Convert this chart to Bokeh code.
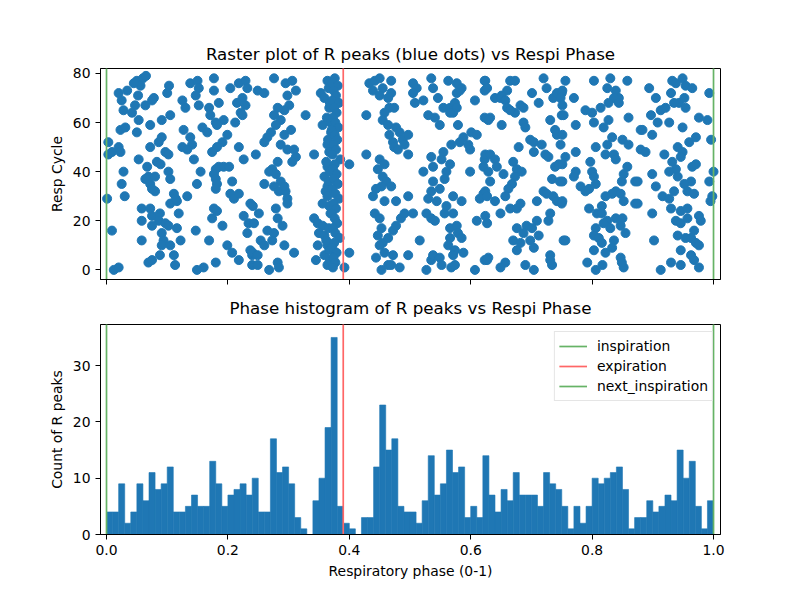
from bokeh.plotting import figure
from bokeh.layouts import column
from bokeh.models import Range1d, FixedTicker, Legend, LegendItem
from bokeh.embed import file_html
from bokeh.resources import INLINE

# ---------------- data ----------------
inspiration_phase = 0.0
expiration_phase = 0.39
next_inspiration_phase = 1.0

# R peaks: (respiratory phase, respiratory cycle)
peaks_a = [(0.050,77),(0.060,78),(0.056,75),(0.045,76),(0.065,79),
(0.020,72),(0.034,73),(0.052,71),(0.103,75),(0.100,72),
(0.025,69),(0.028,65),(0.042,64),(0.047,67),(0.064,67),(0.075,69),(0.078,70),
(0.091,61),(0.105,63),(0.053,61),(0.072,59),(0.050,56),(0.023,57),(0.031,58),
(0.003,52),(0.003,47),(0.009,48),(0.020,50),(0.023,48),
(0.072,50),(0.091,54),(0.086,52),(0.097,48),(0.102,47),
(0.053,45),(0.083,44),(0.089,43),(0.067,42),(0.069,38),(0.064,37),
(0.028,40),(0.102,40),(0.105,37),(0.080,38),(0.072,35),(0.080,32),(0.075,33),
(0.025,35),(0.030,30),(0.001,29),
(0.111,31),(0.105,27),(0.116,28),
(0.058,25),(0.072,25),(0.075,22),(0.088,23),(0.086,20),(0.058,20),(0.097,19),(0.102,18),(0.075,18),
(0.091,15),(0.094,12),(0.091,10),(0.105,10),(0.111,6),(0.113,2),(0.058,12),(0.009,16),(0.088,6),
(0.069,3),(0.075,4),(0.012,0),(0.020,1)]

peaks_b = [(0.138,76),(0.150,77),(0.152,74),(0.147,71),(0.177,78),(0.177,73),
(0.204,74),(0.218,76),(0.229,77),(0.232,74),(0.224,70),(0.229,67),(0.221,64),(0.215,68),
(0.125,69),(0.130,66),(0.152,67),(0.169,66),(0.171,63),(0.185,68),(0.180,60),(0.193,61),
(0.127,57),(0.158,58),(0.166,56),(0.182,59),(0.212,60),(0.224,63),
(0.138,54),(0.141,51),(0.199,55),(0.191,52),(0.182,50),(0.174,48),
(0.125,50),(0.133,49),(0.144,45),(0.218,50),(0.226,45),
(0.155,40),(0.185,42),(0.180,41),(0.177,39),(0.180,37),(0.182,35),(0.193,42),(0.202,42),(0.180,33),(0.207,36),
(0.149,35),(0.133,30),(0.114,29),(0.204,31),(0.210,29),(0.218,31),
(0.119,23),(0.177,25),(0.174,21),(0.182,24),(0.191,18),(0.226,22),(0.234,19),(0.232,15),(0.237,27),
(0.147,16),(0.169,12),(0.122,12),(0.116,17),(0.199,10),(0.207,7),(0.218,4),(0.237,8),(0.240,2),(0.240,6),
(0.180,3),(0.160,1),(0.149,0)]

peaks_c = [(0.276,78),(0.295,76),(0.306,77),(0.312,73),(0.298,71),(0.301,67),(0.293,65),
(0.249,73),(0.260,72),
(0.282,66),(0.276,63),(0.287,61),(0.279,59),(0.271,56),(0.265,54),(0.260,52),
(0.328,63),
(0.353,72),(0.359,70),(0.364,77),(0.356,59),(0.367,66),(0.370,56),(0.364,51),
(0.304,57),(0.293,55),(0.287,51),(0.298,49),(0.309,49),(0.312,46),(0.306,44),
(0.246,47),(0.342,47),
(0.282,44),(0.273,41),(0.268,40),(0.279,39),(0.287,36),(0.276,34),(0.284,32),(0.295,32),(0.298,29),(0.298,27),(0.293,34),
(0.260,35),
(0.359,38),(0.364,42),(0.364,34),(0.361,32),(0.367,26),(0.356,27),
(0.251,23),(0.241,26),(0.243,19),
(0.279,25),(0.282,21),(0.290,18),(0.276,15),
(0.265,16),(0.273,12),(0.254,12),(0.260,10),
(0.342,21),(0.348,19),(0.356,18),(0.350,15),(0.348,10),(0.359,14),(0.364,10),(0.345,4),
(0.359,6),(0.364,2),(0.367,8),
(0.293,10),(0.309,7),(0.282,3),(0.284,1),(0.268,0),(0.249,2),(0.241,7),(0.249,6),
(0.366,74),(0.368,68),(0.363,62),(0.369,60),(0.365,53),(0.367,48),(0.362,44),(0.368,40),
(0.366,36),(0.364,30),(0.369,23),(0.366,17),(0.362,12),(0.368,4)]

peaks_d = [(0.376,78),(0.372,76),(0.381,75),(0.374,73),(0.378,71),(0.372,69),(0.383,68),(0.375,66),
(0.379,64),(0.373,62),(0.377,60),(0.382,58),(0.371,57),(0.376,55),(0.380,53),(0.374,51),
(0.378,49),(0.372,47),(0.385,45),(0.376,43),(0.373,41),(0.379,39),(0.375,37),(0.381,35),
(0.372,33),(0.377,31),(0.383,29),(0.374,27),(0.378,25),(0.371,23),(0.376,21),(0.380,19),
(0.373,17),(0.377,15),(0.384,13),(0.375,11),(0.372,9),(0.379,7),(0.374,5),(0.377,3),(0.373,1)]

peaks_e = [(0.400,43),(0.400,7),(0.392,1),(0.428,63),(0.428,47),
(0.433,76),(0.442,77),(0.450,78),(0.469,77),(0.439,73),(0.455,74),(0.469,72),(0.464,70),(0.450,71),
(0.466,66),(0.474,66),(0.458,64),(0.455,61),(0.464,59),(0.477,58),(0.483,56),(0.488,53),(0.472,52),
(0.474,50),(0.480,49),(0.491,51),(0.466,55),
(0.450,45),(0.458,43),(0.447,41),(0.455,38),(0.461,36),(0.453,34),(0.444,33),(0.439,30),(0.458,28),
(0.469,34),(0.477,28),
(0.442,23),(0.450,21),(0.453,17),(0.447,14),(0.455,11),(0.464,13),(0.472,16),(0.477,18),
(0.450,10),(0.444,5),(0.453,0),(0.464,2),(0.469,2),(0.483,1),(0.472,6),(0.458,7),
(0.485,21),(0.491,23)]

peaks_f = [(0.505,76),(0.511,74),(0.505,72),(0.508,68),(0.522,69),
(0.535,78),(0.538,74),(0.546,70),(0.563,77),(0.577,76),(0.582,73),(0.585,74),(0.577,72),
(0.555,66),(0.566,66),(0.574,68),(0.577,66),(0.571,64),(0.566,64),
(0.530,63),(0.541,62),(0.549,59),
(0.607,69),(0.623,77),(0.623,73),
(0.497,55),(0.497,47),
(0.579,59),(0.588,54),(0.582,52),(0.596,51),(0.601,56),(0.610,55),(0.599,49),(0.623,62),(0.623,45),
(0.568,51),(0.555,48),(0.535,46),(0.552,45),(0.566,43),(0.560,40),(0.557,37),(0.538,42),(0.522,40),
(0.538,36),(0.549,33),(0.535,32),
(0.599,40),
(0.497,30),(0.505,23),
(0.530,29),(0.527,23),(0.535,21),(0.541,20),(0.544,28),(0.560,26),(0.557,23),(0.571,30),(0.571,23),(0.585,28),
(0.615,29),(0.621,31),(0.610,20),
(0.516,12),
(0.566,17),(0.577,18),(0.579,15),(0.585,13),(0.566,13),(0.563,10),(0.574,8),(0.588,7),(0.571,6),
(0.497,6),
(0.535,4),(0.538,6),(0.549,5),(0.527,0),(0.552,2),(0.568,1),(0.574,2),(0.607,0),
(0.623,4)]

peaks_g = [(0.624,77),(0.627,74),
(0.665,77),(0.673,77),(0.660,73),(0.640,70),(0.649,70),(0.651,71),
(0.657,69),(0.660,66),(0.673,64),(0.682,67),(0.687,66),(0.665,65),
(0.632,62),(0.629,61),(0.651,59),
(0.701,72),(0.712,68),(0.720,78),(0.725,74),(0.736,70),(0.742,72),(0.750,72),
(0.731,61),(0.739,57),(0.742,55),(0.750,63),
(0.687,60),(0.690,58),
(0.698,53),(0.704,52),(0.717,51),(0.704,48),(0.723,47),(0.728,46),
(0.679,50),
(0.739,42),(0.745,43),
(0.624,47),(0.632,47),(0.640,45),(0.643,42),(0.621,42),(0.629,40),(0.632,36),
(0.654,39),(0.670,44),(0.676,41),(0.684,40),(0.673,38),(0.668,35),(0.662,33),(0.657,30),
(0.734,37),(0.747,36),
(0.624,32),(0.627,30),
(0.640,28),(0.649,23),(0.665,25),(0.676,25),(0.682,27),
(0.709,28),(0.720,32),(0.725,31),(0.736,30),(0.742,28),(0.750,27),
(0.624,22),(0.627,19),
(0.731,23),(0.728,20),(0.709,20),
(0.676,17),(0.692,18),(0.701,17),(0.687,15),(0.670,12),(0.682,11),(0.698,12),(0.712,14),(0.704,9),
(0.676,8),
(0.629,5),(0.627,4),
(0.657,3),(0.649,1),
(0.690,2),(0.704,0),
(0.731,6),(0.734,2),(0.731,4),
(0.753,12)]

peaks_h = [(0.756,77),(0.751,73),(0.748,70),
(0.770,70),
(0.803,77),(0.830,78),(0.825,74),(0.839,73),(0.844,70),(0.836,70),(0.844,68),(0.827,68),(0.858,77),
(0.751,67),(0.753,63),
(0.789,65),(0.800,64),
(0.814,66),(0.819,58),(0.827,61),(0.803,60),(0.773,59),
(0.860,62),
(0.751,55),(0.748,51),
(0.833,54),(0.825,51),(0.850,53),(0.860,51),(0.880,57),
(0.806,50),
(0.822,47),(0.836,47),(0.839,45),
(0.773,48),(0.756,46),(0.751,43),
(0.797,44),(0.800,40),(0.803,38),(0.806,35),(0.795,33),(0.789,32),
(0.773,40),(0.770,38),(0.751,36),
(0.858,42),(0.852,39),(0.849,36),(0.871,36),
(0.781,34),
(0.822,30),(0.839,32),(0.847,31),(0.852,28),(0.871,27),(0.833,31),
(0.751,28),
(0.795,25),(0.808,23),(0.816,26),(0.816,23),
(0.825,20),(0.839,21),(0.850,21),(0.847,18),(0.830,17),(0.819,19),
(0.806,17),(0.803,14),(0.811,13),(0.816,11),(0.836,12),(0.833,9),(0.822,7),(0.803,8),(0.855,15),
(0.756,12),
(0.792,3),(0.806,0),(0.817,2),
(0.847,5),(0.852,1),(0.849,3)]

peaks_i = [(0.894,74),(0.905,70),(0.932,77),(0.938,76),(0.949,78),(0.954,75),(0.965,74),(0.930,72),
(0.943,68),(0.952,70),(0.954,66),(0.935,68),
(0.993,72),
(0.897,63),(0.913,65),(0.921,66),(0.908,60),(0.927,60),(0.949,58),
(0.976,62),(0.990,61),
(0.883,57),(0.899,55),
(0.960,52),(0.971,54),(0.996,53),
(0.880,49),(0.888,48),(0.919,47),(0.941,50),(0.949,48),(0.946,46),
(0.965,42),(0.971,43),(0.932,44),(0.938,41),(0.941,38),(0.927,40),
(0.899,39),(0.875,36),
(0.963,36),(0.952,35),(0.957,32),(0.968,31),(0.905,34),(0.935,32),
(0.993,36),(1.0,40),
(0.916,30),(0.927,29),(0.930,25),(0.946,24),(0.957,25),
(0.998,30),(0.995,28),
(0.875,27),
(0.899,23),(0.938,20),(0.946,19),(0.957,21),(0.976,22),(0.979,20),
(0.968,16),(0.941,14),(0.954,13),(0.963,13),(0.971,11),(0.976,10),
(0.902,12),
(0.946,8),(0.963,6),(0.968,4),(0.976,1),
(0.930,3),(0.946,2),(0.913,0)]

# Phase histogram: 100 bins of width 0.01 over [0, 1]
hist_counts = [4,4,9,2,4,9,6,11,8,9, 12,4,4,5,7,5,5,13,9,5,
               7,8,9,7,10,4,4,17,11,12, 9,3,1,0,6,10,19,35,5,2,
               1,0,3,3,12,23,15,17,5,4, 4,2,6,14,7,9,15,11,12,3,
               5,3,14,7,4,8,6,11,7,7, 7,5,11,9,8,5,1,5,2,5,
               10,9,10,11,12,8,1,3,3,6, 4,5,7,6,15,10,13,5,1,6]
n_bins = len(hist_counts)
bin_left = [i / n_bins for i in range(n_bins)]
bin_right = [(i + 1) / n_bins for i in range(n_bins)]

all_peaks = peaks_a + peaks_b + peaks_c + peaks_d + peaks_e + peaks_f + peaks_g + peaks_h + peaks_i
peak_phase = [p for p, c in all_peaks]
peak_cycle = [c for p, c in all_peaks]

# ---------------- styling ----------------
FONT = "DejaVu Sans"
BLUE = "#1f77b4"
GREEN = "#66b366"
RED = "#ff6666"
X_RANGE = (-0.0099, 1.0115)


def style(p):
    p.xgrid.visible = False
    p.ygrid.visible = False
    p.outline_line_color = "black"
    p.outline_line_width = 1
    p.outline_line_alpha = 1
    p.background_fill_color = "white"
    p.border_fill_color = "white"
    for ax in (p.xaxis[0], p.yaxis[0]):
        ax.axis_line_color = "black"
        ax.major_tick_line_color = "black"
        ax.minor_tick_line_color = None
        ax.major_tick_out = 5
        ax.major_tick_in = 0
        ax.major_label_text_font = FONT
        ax.major_label_text_font_size = "13.9px"
        ax.major_label_text_color = "black"
        ax.axis_label_text_font = FONT
        ax.axis_label_text_font_size = "13.9px"
        ax.axis_label_text_font_style = "normal"
        ax.axis_label_text_color = "black"
    p.title.text_font = FONT
    p.title.text_font_size = "16.7px"
    p.title.text_font_style = "normal"
    p.title.align = "center"
    p.title.text_color = "black"


# ---------------- raster plot ----------------
p1 = figure(width=800, height=300, output_backend="svg", toolbar_location=None,
            x_range=Range1d(*X_RANGE), y_range=Range1d(-3.9, 82.0),
            title="Raster plot of R peaks (blue dots) vs Respi Phase",
            min_border_left=100, min_border_right=80, min_border_top=68, min_border_bottom=10)
p1.frame_width = 620
p1.frame_height = 211
style(p1)
p1.xaxis.ticker = FixedTicker(ticks=[0, 0.2, 0.4, 0.6, 0.8, 1.0])
p1.xaxis.major_label_overrides = {0: "", 0.2: "", 0.4: "", 0.6: "", 0.8: "", 1.0: ""}
p1.yaxis.ticker = FixedTicker(ticks=[0, 20, 40, 60, 80])
p1.yaxis.axis_label = "Resp Cycle"

p1.scatter(peak_phase, peak_cycle, size=9, color=BLUE, line_color=BLUE)
for xv, col in ((inspiration_phase, GREEN), (expiration_phase, RED), (next_inspiration_phase, GREEN)):
    p1.line([xv, xv], [-10, 100], line_color=col, line_width=1.7)

# ---------------- histogram ----------------
p2 = figure(width=800, height=300, output_backend="svg", toolbar_location=None,
            x_range=Range1d(*X_RANGE), y_range=Range1d(0, 37.3),
            title="Phase histogram of R peaks vs Respi Phase",
            min_border_left=100, min_border_right=80, min_border_top=20, min_border_bottom=10)
p2.frame_width = 620
p2.frame_height = 210
style(p2)
p2.title.standoff = 13
p2.xaxis.ticker = FixedTicker(ticks=[0, 0.2, 0.4, 0.6, 0.8, 1.0])
p2.xaxis.major_label_overrides = {0: "0.0", 0.2: "0.2", 0.4: "0.4", 0.6: "0.6", 0.8: "0.8", 1.0: "1.0"}
p2.yaxis.ticker = FixedTicker(ticks=[0, 10, 20, 30])
p2.yaxis.axis_label = "Count of R peaks"
p2.xaxis.axis_label = "Respiratory phase (0-1)"

p2.quad(left=bin_left, right=bin_right, bottom=0, top=hist_counts,
        fill_color=BLUE, line_color=BLUE, line_width=0.6)
l_in = p2.line([inspiration_phase] * 2, [-10, 100], line_color=GREEN, line_width=1.7)
l_ex = p2.line([expiration_phase] * 2, [-10, 100], line_color=RED, line_width=1.7)
l_nx = p2.line([next_inspiration_phase] * 2, [-10, 100], line_color=GREEN, line_width=1.7)

legend = Legend(items=[LegendItem(label="inspiration", renderers=[l_in]),
                       LegendItem(label="expiration", renderers=[l_ex]),
                       LegendItem(label="next_inspiration", renderers=[l_nx])],
                location="top_right")
legend.label_text_font = FONT
legend.label_text_font_size = "13.9px"
legend.label_text_color = "black"
legend.border_line_color = "#cccccc"
legend.border_line_width = 1
legend.background_fill_alpha = 0.8
legend.margin = 7
legend.padding = 4
legend.spacing = 0
legend.glyph_width = 28
legend.label_standoff = 10
p2.add_layout(legend)

layout = column(p1, p2, spacing=0)
open("out.html", "w").write(file_html(layout, INLINE))
